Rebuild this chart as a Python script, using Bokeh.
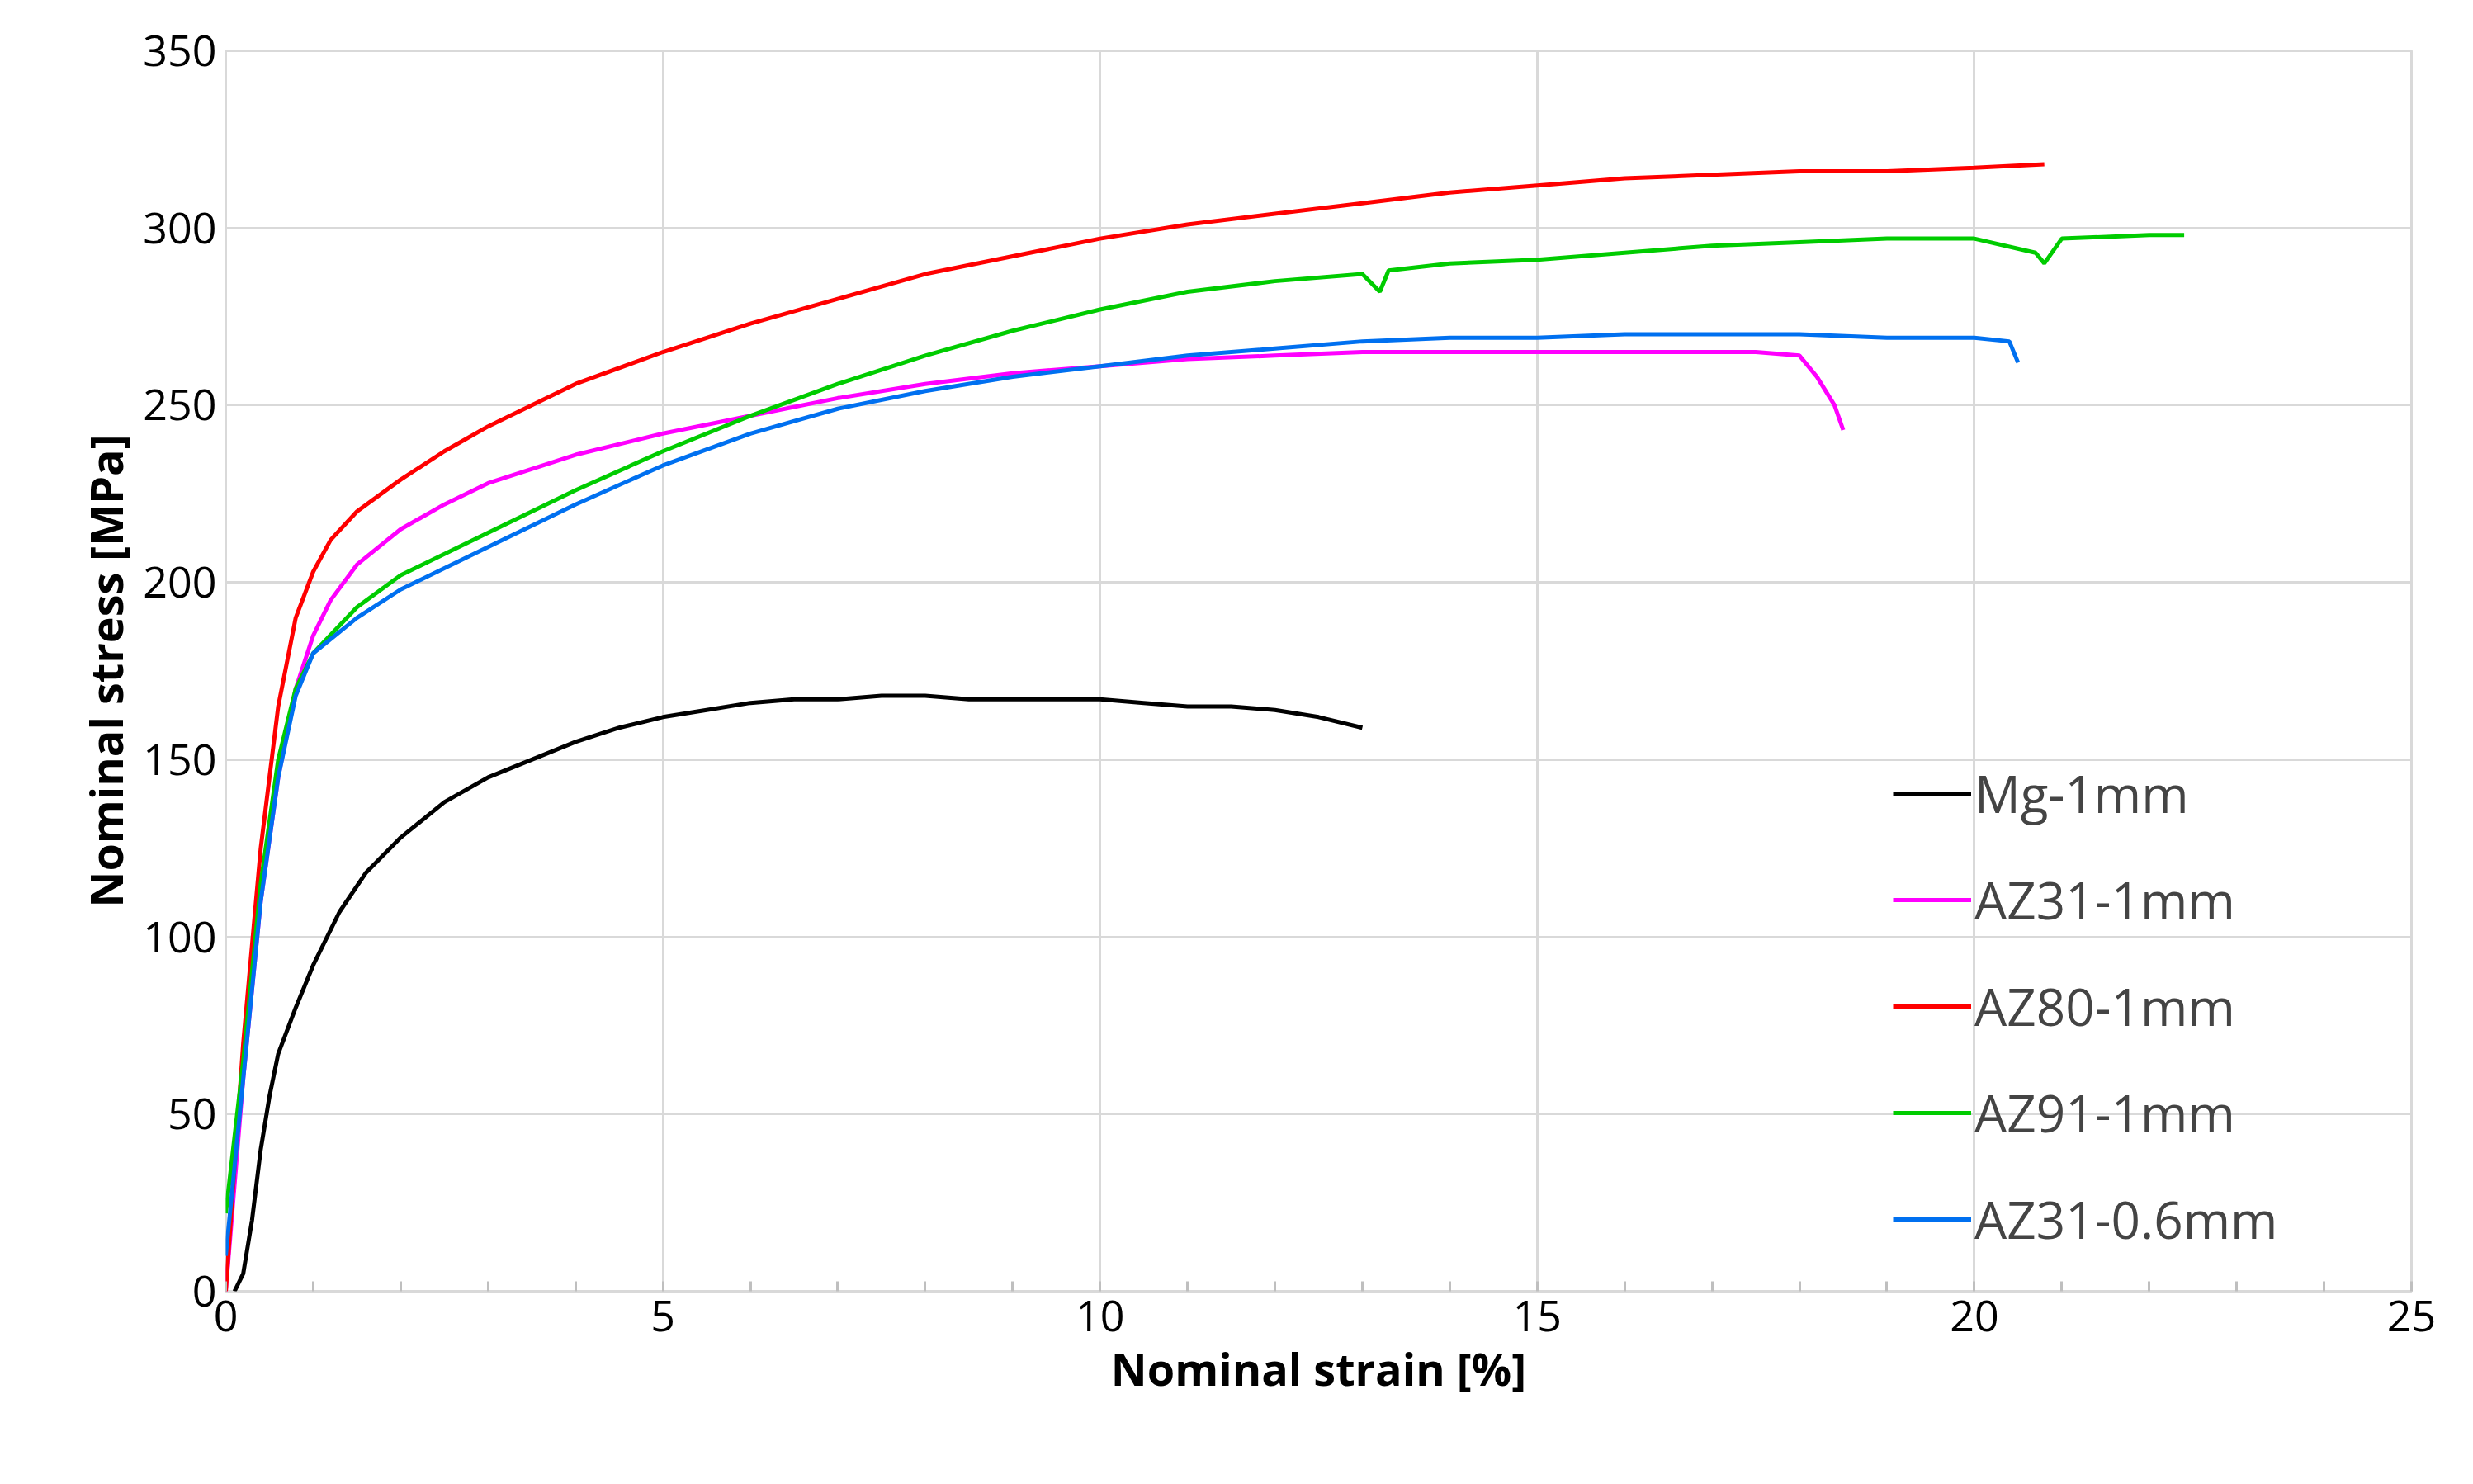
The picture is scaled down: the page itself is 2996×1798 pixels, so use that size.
from bokeh.plotting import figure
from bokeh.embed import file_html
from bokeh.resources import INLINE
from bokeh.models import Legend, LegendItem, FixedTicker

mg_x = [0.1,0.2,0.3,0.4,0.5,0.6,0.8,1.0,1.3,1.6,2.0,2.5,3.0,3.5,4.0,4.5,5.0,5.5,6,6.5,7,7.5,8,8.5,9,9.5,10,10.5,11,11.5,12,12.5,13]
mg_y = [0,5,20,40,55,67,80,92,107,118,128,138,145,150,155,159,162,164,166,167,167,168,168,167,167,167,167,166,165,165,164,162,159]
az31_x = [0,0.1,0.2,0.4,0.6,0.8,1.0,1.2,1.5,2,2.5,3,4,5,6,7,8,9,10,11,12,13,14,15,16,17,17.5,18,18.2,18.4,18.5]
az31_y = [0,30,60,110,145,170,185,195,205,215,222,228,236,242,247,252,256,259,261,263,264,265,265,265,265,265,265,264,258,250,243]
az80_x = [0,0.1,0.2,0.4,0.6,0.8,1.0,1.2,1.5,2,2.5,3,4,5,6,7,8,9,10,11,12,13,14,15,16,17,18,19,20,20.8]
az80_y = [0,35,70,125,165,190,203,212,220,229,237,244,256,265,273,280,287,292,297,301,304,307,310,312,314,315,316,316,317,318]
az91_x = [0,0.2,0.4,0.6,0.8,1.0,1.5,2,3,4,5,6,7,8,9,10,11,12,13,13.2,13.3,14,15,16,17,18,19,20,20.7,20.8,21,22,22.4]
az91_y = [22,65,115,150,170,180,193,202,214,226,237,247,256,264,271,277,282,285,287,282,288,290,291,293,295,296,297,297,293,290,297,298,298]
az06_x = [0,0.2,0.4,0.6,0.8,1.0,1.5,2,3,4,5,6,7,8,9,10,11,12,13,14,15,16,17,18,19,20,20.4,20.5]
az06_y = [10,60,110,145,168,180,190,198,210,222,233,242,249,254,258,261,264,266,268,269,269,270,270,270,269,269,268,262]

p = figure(width=2980, height=1780, output_backend="svg", toolbar_location=None,
           x_range=(0, 25), y_range=(0, 350), min_border_left=273, min_border_top=61,
           min_border_right=59, min_border_bottom=216)
p.outline_line_color = "#d9d9d9"
p.outline_line_width = 3
font = "Open Sans"
for ax in (p.xaxis, p.yaxis):
    ax.major_label_text_font = font
    ax.major_label_text_font_size = "52px"
    ax.major_label_text_color = "#000000"
    ax.axis_label_text_font = font
    ax.axis_label_text_font_size = "54px"
    ax.axis_label_text_font_style = "bold"
    ax.axis_label_text_color = "#000000"
    ax.axis_line_color = None
    ax.major_tick_line_color = None
p.xaxis.axis_label = "Nominal strain [%]"
p.yaxis.axis_label = "Nominal stress [MPa]"
p.xaxis.ticker = FixedTicker(ticks=[0,5,10,15,20,25], minor_ticks=list(range(26)))
p.yaxis.ticker = FixedTicker(ticks=list(range(0, 351, 50)))
p.xaxis.minor_tick_line_color = "#bfbfbf"
p.xaxis.minor_tick_line_width = 3
p.xaxis.minor_tick_in = 12
p.xaxis.minor_tick_out = 0
p.yaxis.minor_tick_line_color = None
p.grid.grid_line_color = "#d9d9d9"
p.grid.grid_line_width = 3

series = [("Mg-1mm", mg_x, mg_y, "#000000"),
          ("AZ31-1mm", az31_x, az31_y, "#ff00ff"),
          ("AZ80-1mm", az80_x, az80_y, "#ff0000"),
          ("AZ91-1mm", az91_x, az91_y, "#00cc00"),
          ("AZ31-0.6mm", az06_x, az06_y, "#0070f0")]
items = []
for name, x, y, c in series:
    r = p.line(x, y, line_color=c, line_width=5)
    items.append(LegendItem(label=name, renderers=[r]))
leg = Legend(items=items, location=(2020, 45), background_fill_alpha=0, border_line_color=None,
             label_text_font=font, label_text_font_size="62px", glyph_width=95,
             label_standoff=4, spacing=45, label_height=80, glyph_height=80)
p.add_layout(leg, "center")

open("out.html", "w").write(file_html(p, INLINE))
